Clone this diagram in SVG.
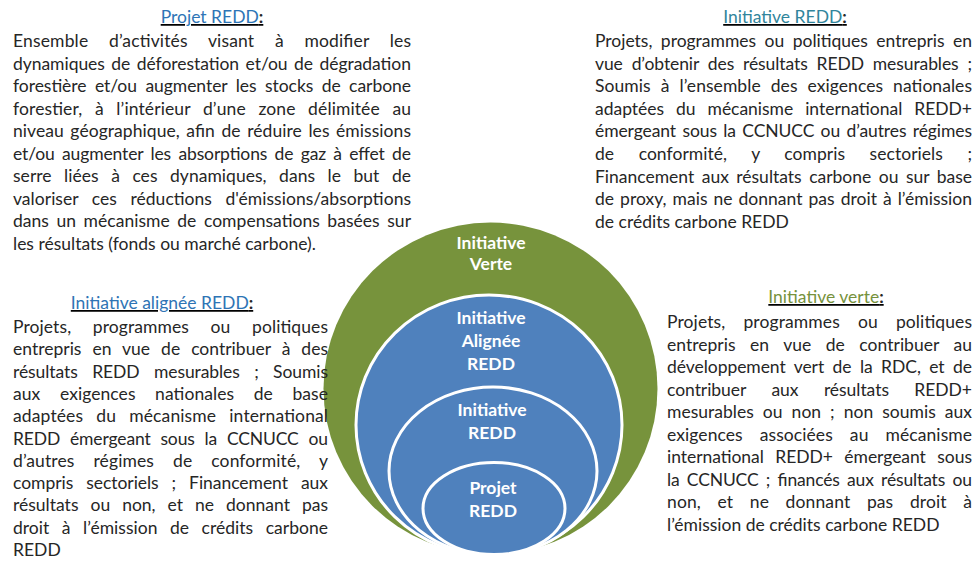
<svg xmlns="http://www.w3.org/2000/svg" width="975" height="563" viewBox="0 0 975 563">
<style>
.body{font-family:Lato,"Open Sans","Liberation Sans",sans-serif;font-size:17.5px;fill:#262626}
.title{font-family:Lato,"Open Sans","Liberation Sans",sans-serif;font-size:17.5px;text-anchor:middle;text-decoration:underline}
.colon{fill:#262626;font-weight:bold}
.lbl{font-family:Lato,"Open Sans","Liberation Sans",sans-serif;font-weight:bold;font-size:17.5px;fill:#ffffff;text-anchor:middle}
.blue{fill:#4F81BD;stroke:#ffffff;stroke-width:3}
</style>
<rect width="975" height="563" fill="#ffffff"/>

<g id="circle-verte">
<ellipse cx="490.5" cy="388.5" rx="167" ry="166" fill="#77933C"/>
<text class="lbl"><tspan x="491" y="249">Initiative</tspan><tspan x="491" y="270">Verte</tspan></text>
</g>
<g id="circle-alignee">
<ellipse class="blue" cx="489" cy="425" rx="133" ry="130"/>
<text class="lbl"><tspan x="491" y="324">Initiative</tspan><tspan x="491" y="347">Alignée</tspan><tspan x="491" y="370">REDD</tspan></text>
</g>
<g id="circle-initiative-redd">
<ellipse class="blue" cx="493" cy="471" rx="104" ry="84"/>
<text class="lbl"><tspan x="492" y="416">Initiative</tspan><tspan x="492" y="439">REDD</tspan></text>
</g>
<g id="circle-projet">
<ellipse class="blue" cx="494" cy="508.5" rx="71" ry="46"/>
<text class="lbl"><tspan x="493" y="494">Projet</tspan><tspan x="493" y="517">REDD</tspan></text>
</g>

<g id="text-projet-redd">
<text class="title" x="212" y="23"><tspan fill="#2E75B6">Projet REDD</tspan><tspan class="colon">:</tspan></text>
<text class="body" x="13" y="47" textLength="398" lengthAdjust="spacing" style="word-spacing:16px"><tspan>Ensemble</tspan> <tspan>d’activités</tspan> <tspan>visant</tspan> <tspan>à</tspan> <tspan>modifier</tspan> <tspan>les</tspan></text>
<text class="body" x="13" y="69.6" textLength="398" lengthAdjust="spacing" style="word-spacing:2px"><tspan>dynamiques</tspan> <tspan>de</tspan> <tspan>déforestation</tspan> <tspan>et/ou</tspan> <tspan>de</tspan> <tspan>dégradation</tspan></text>
<text class="body" x="13" y="92.1" textLength="398" lengthAdjust="spacing" style="word-spacing:4px"><tspan>forestière</tspan> <tspan>et/ou</tspan> <tspan>augmenter</tspan> <tspan>les</tspan> <tspan>stocks</tspan> <tspan>de</tspan> <tspan>carbone</tspan></text>
<text class="body" x="13" y="114.7" textLength="398" lengthAdjust="spacing" style="word-spacing:8px"><tspan>forestier,</tspan> <tspan>à</tspan> <tspan>l’intérieur</tspan> <tspan>d’une</tspan> <tspan>zone</tspan> <tspan>délimitée</tspan> <tspan>au</tspan></text>
<text class="body" x="13" y="137.2" textLength="398" lengthAdjust="spacing" style="word-spacing:2px"><tspan>niveau</tspan> <tspan>géographique,</tspan> <tspan>afin</tspan> <tspan>de</tspan> <tspan>réduire</tspan> <tspan>les</tspan> <tspan>émissions</tspan></text>
<text class="body" x="13" y="159.8" textLength="398" lengthAdjust="spacing" style="word-spacing:3px"><tspan>et/ou</tspan> <tspan>augmenter</tspan> <tspan>les</tspan> <tspan>absorptions</tspan> <tspan>de</tspan> <tspan>gaz</tspan> <tspan>à</tspan> <tspan>effet</tspan> <tspan>de</tspan></text>
<text class="body" x="13" y="182.3" textLength="398" lengthAdjust="spacing" style="word-spacing:8px"><tspan>serre</tspan> <tspan>liées</tspan> <tspan>à</tspan> <tspan>ces</tspan> <tspan>dynamiques,</tspan> <tspan>dans</tspan> <tspan>le</tspan> <tspan>but</tspan> <tspan>de</tspan></text>
<text class="body" x="13" y="204.9" textLength="398" lengthAdjust="spacing" style="word-spacing:9px"><tspan>valoriser</tspan> <tspan>ces</tspan> <tspan>réductions</tspan> <tspan>d'émissions/absorptions</tspan></text>
<text class="body" x="13" y="227.4" textLength="398" lengthAdjust="spacing" style="word-spacing:3px"><tspan>dans</tspan> <tspan>un</tspan> <tspan>mécanisme</tspan> <tspan>de</tspan> <tspan>compensations</tspan> <tspan>basées</tspan> <tspan>sur</tspan></text>
<text class="body" x="13" y="250"><tspan>les</tspan> <tspan>résultats</tspan> <tspan>(fonds</tspan> <tspan>ou</tspan> <tspan>marché</tspan> <tspan>carbone).</tspan></text>
</g>

<g id="text-initiative-redd">
<text class="title" x="785" y="23"><tspan fill="#31859C">Initiative REDD</tspan><tspan class="colon">:</tspan></text>
<text class="body" x="595" y="47" textLength="377" lengthAdjust="spacing" style="word-spacing:4px"><tspan>Projets,</tspan> <tspan>programmes</tspan> <tspan>ou</tspan> <tspan>politiques</tspan> <tspan>entrepris</tspan> <tspan>en</tspan></text>
<text class="body" x="595" y="69.6" textLength="377" lengthAdjust="spacing" style="word-spacing:4.5px"><tspan>vue</tspan> <tspan>d’obtenir</tspan> <tspan>des</tspan> <tspan>résultats</tspan> <tspan>REDD</tspan> <tspan>mesurables</tspan> <tspan>;</tspan></text>
<text class="body" x="595" y="92.2" textLength="377" lengthAdjust="spacing" style="word-spacing:5.5px"><tspan>Soumis</tspan> <tspan>à</tspan> <tspan>l’ensemble</tspan> <tspan>des</tspan> <tspan>exigences</tspan> <tspan>nationales</tspan></text>
<text class="body" x="595" y="114.8" textLength="377" lengthAdjust="spacing" style="word-spacing:7.5px"><tspan>adaptées</tspan> <tspan>du</tspan> <tspan>mécanisme</tspan> <tspan>international</tspan> <tspan>REDD+</tspan></text>
<text class="body" x="595" y="137.4" textLength="377" lengthAdjust="spacing" style="word-spacing:2px"><tspan>émergeant</tspan> <tspan>sous</tspan> <tspan>la</tspan> <tspan>CCNUCC</tspan> <tspan>ou</tspan> <tspan>d’autres</tspan> <tspan>régimes</tspan></text>
<text class="body" x="595" y="160" textLength="377" lengthAdjust="spacing" style="word-spacing:20px"><tspan>de</tspan> <tspan>conformité,</tspan> <tspan>y</tspan> <tspan>compris</tspan> <tspan>sectoriels</tspan> <tspan>;</tspan></text>
<text class="body" x="595" y="182.6" textLength="377" lengthAdjust="spacing" style="word-spacing:3px"><tspan>Financement</tspan> <tspan>aux</tspan> <tspan>résultats</tspan> <tspan>carbone</tspan> <tspan>ou</tspan> <tspan>sur</tspan> <tspan>base</tspan></text>
<text class="body" x="595" y="205.2" textLength="377" lengthAdjust="spacing" style="word-spacing:1.5px"><tspan>de</tspan> <tspan>proxy,</tspan> <tspan>mais</tspan> <tspan>ne</tspan> <tspan>donnant</tspan> <tspan>pas</tspan> <tspan>droit</tspan> <tspan>à</tspan> <tspan>l’émission</tspan></text>
<text class="body" x="595" y="227.8"><tspan>de</tspan> <tspan>crédits</tspan> <tspan>carbone</tspan> <tspan>REDD</tspan></text>
</g>

<g id="text-initiative-alignee">
<text class="title" x="162" y="309"><tspan fill="#2E74B5">Initiative alignée REDD</tspan><tspan class="colon">:</tspan></text>
<text class="body" x="13" y="333" textLength="315" lengthAdjust="spacing" style="word-spacing:17px"><tspan>Projets,</tspan> <tspan>programmes</tspan> <tspan>ou</tspan> <tspan>politiques</tspan></text>
<text class="body" x="13" y="355.3" textLength="315" lengthAdjust="spacing" style="word-spacing:6.5px"><tspan>entrepris</tspan> <tspan>en</tspan> <tspan>vue</tspan> <tspan>de</tspan> <tspan>contribuer</tspan> <tspan>à</tspan> <tspan>des</tspan></text>
<text class="body" x="13" y="377.6" textLength="315" lengthAdjust="spacing" style="word-spacing:10px"><tspan>résultats</tspan> <tspan>REDD</tspan> <tspan>mesurables</tspan> <tspan>;</tspan> <tspan>Soumis</tspan></text>
<text class="body" x="13" y="399.9" textLength="315" lengthAdjust="spacing" style="word-spacing:15px"><tspan>aux</tspan> <tspan>exigences</tspan> <tspan>nationales</tspan> <tspan>de</tspan> <tspan>base</tspan></text>
<text class="body" x="13" y="422.2" textLength="315" lengthAdjust="spacing" style="word-spacing:8.5px"><tspan>adaptées</tspan> <tspan>du</tspan> <tspan>mécanisme</tspan> <tspan>international</tspan></text>
<text class="body" x="13" y="444.5" textLength="315" lengthAdjust="spacing" style="word-spacing:5.5px"><tspan>REDD</tspan> <tspan>émergeant</tspan> <tspan>sous</tspan> <tspan>la</tspan> <tspan>CCNUCC</tspan> <tspan>ou</tspan></text>
<text class="body" x="13" y="466.8" textLength="315" lengthAdjust="spacing" style="word-spacing:14.5px"><tspan>d’autres</tspan> <tspan>régimes</tspan> <tspan>de</tspan> <tspan>conformité,</tspan> <tspan>y</tspan></text>
<text class="body" x="13" y="489.1" textLength="315" lengthAdjust="spacing" style="word-spacing:8.5px"><tspan>compris</tspan> <tspan>sectoriels</tspan> <tspan>;</tspan> <tspan>Financement</tspan> <tspan>aux</tspan></text>
<text class="body" x="13" y="511.4" textLength="315" lengthAdjust="spacing" style="word-spacing:7.5px"><tspan>résultats</tspan> <tspan>ou</tspan> <tspan>non,</tspan> <tspan>et</tspan> <tspan>ne</tspan> <tspan>donnant</tspan> <tspan>pas</tspan></text>
<text class="body" x="13" y="533.7" textLength="315" lengthAdjust="spacing" style="word-spacing:8px"><tspan>droit</tspan> <tspan>à</tspan> <tspan>l’émission</tspan> <tspan>de</tspan> <tspan>crédits</tspan> <tspan>carbone</tspan></text>
<text class="body" x="13" y="556">REDD</text>
</g>

<g id="text-initiative-verte">
<text class="title" x="826" y="303"><tspan fill="#76923C">Initiative verte</tspan><tspan class="colon">:</tspan></text>
<text class="body" x="667" y="328" textLength="305" lengthAdjust="spacing" style="word-spacing:13.5px"><tspan>Projets,</tspan> <tspan>programmes</tspan> <tspan>ou</tspan> <tspan>politiques</tspan></text>
<text class="body" x="667" y="350.6" textLength="305" lengthAdjust="spacing" style="word-spacing:10px"><tspan>entrepris</tspan> <tspan>en</tspan> <tspan>vue</tspan> <tspan>de</tspan> <tspan>contribuer</tspan> <tspan>au</tspan></text>
<text class="body" x="667" y="373.1" textLength="305" lengthAdjust="spacing" style="word-spacing:4px"><tspan>développement</tspan> <tspan>vert</tspan> <tspan>de</tspan> <tspan>la</tspan> <tspan>RDC,</tspan> <tspan>et</tspan> <tspan>de</tspan></text>
<text class="body" x="667" y="395.7" textLength="305" lengthAdjust="spacing" style="word-spacing:21px"><tspan>contribuer</tspan> <tspan>aux</tspan> <tspan>résultats</tspan> <tspan>REDD+</tspan></text>
<text class="body" x="667" y="418.2" textLength="305" lengthAdjust="spacing" style="word-spacing:4.5px"><tspan>mesurables</tspan> <tspan>ou</tspan> <tspan>non</tspan> <tspan>;</tspan> <tspan>non</tspan> <tspan>soumis</tspan> <tspan>aux</tspan></text>
<text class="body" x="667" y="440.8" textLength="305" lengthAdjust="spacing" style="word-spacing:12.5px"><tspan>exigences</tspan> <tspan>associées</tspan> <tspan>au</tspan> <tspan>mécanisme</tspan></text>
<text class="body" x="667" y="463.3" textLength="305" lengthAdjust="spacing" style="word-spacing:7px"><tspan>international</tspan> <tspan>REDD+</tspan> <tspan>émergeant</tspan> <tspan>sous</tspan></text>
<text class="body" x="667" y="485.9" textLength="305" lengthAdjust="spacing" style="word-spacing:3px"><tspan>la</tspan> <tspan>CCNUCC</tspan> <tspan>;</tspan> <tspan>financés</tspan> <tspan>aux</tspan> <tspan>résultats</tspan> <tspan>ou</tspan></text>
<text class="body" x="667" y="508.4" textLength="305" lengthAdjust="spacing" style="word-spacing:12px"><tspan>non,</tspan> <tspan>et</tspan> <tspan>ne</tspan> <tspan>donnant</tspan> <tspan>pas</tspan> <tspan>droit</tspan> <tspan>à</tspan></text>
<text class="body" x="667" y="531"><tspan>l’émission</tspan> <tspan>de</tspan> <tspan>crédits</tspan> <tspan>carbone</tspan> <tspan>REDD</tspan></text>
</g>
</svg>
